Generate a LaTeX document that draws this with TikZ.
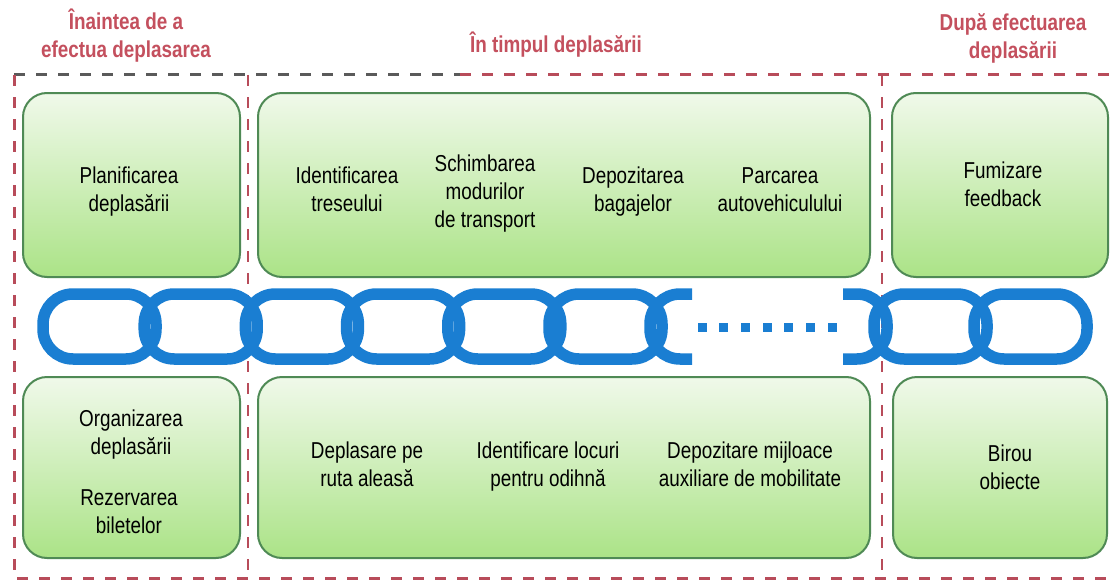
\documentclass[tikz,border=0pt]{standalone}
\usepackage{fontspec}
\setmainfont{Liberation Sans}[FakeStretch=0.82]
\definecolor{boxline}{HTML}{4F8A55}
\definecolor{boxtop}{HTML}{F0F9EA}
\definecolor{boxbot}{HTML}{ABE387}
\definecolor{chainblue}{HTML}{1A7ED2}
\definecolor{phasered}{HTML}{C4505E}
\definecolor{sepred}{HTML}{B84C5A}
\definecolor{sepgrey}{HTML}{5A5A5A}
\begin{document}
\begin{tikzpicture}[x=1pt,y=-1pt,
  box/.style={draw=boxline,line width=2pt,rounded corners=24pt,
    top color=boxtop,bottom color=boxbot},
  txt/.style={align=center,text=black,font=\fontsize{23}{28}\selectfont},
  phase/.style={align=center,text=phasered,font=\fontsize{23}{28}\selectfont\bfseries},
  sep/.style={draw=sepred,line width=3pt,dash pattern=on 11pt off 11pt},
  link/.style={draw=chainblue,line width=11.5pt,rounded corners=30pt}]
\fill[white] (0,0) rectangle (1114,586);
\useasboundingbox (0,0) rectangle (1114,586);
% phases
\node[phase] (before) at (126,36) {Înaintea de a\\efectua deplasarea};
\node[phase] (during) at (556,45) {În timpul deplasării};
\node[phase] (after) at (1013,38) {După efectuarea\\deplasării};
% dashed frame
\draw[sep,draw=sepgrey] (14,75) -- (460,75);
\draw[sep] (460,75) -- (1114,75);
\draw[sep] (14,75) -- (14,578) -- (1114,578);
\draw[sep,line width=2pt] (248,75) -- (248,578);
\draw[sep,line width=2pt] (882,75) -- (882,578);
% boxes
\node[box,minimum width=217pt,minimum height=184pt] (tl) at (131.5,185) {};
\node[box,minimum width=612pt,minimum height=184pt] (tm) at (564,185) {};
\node[box,minimum width=216pt,minimum height=184pt] (tr) at (1000,185) {};
\node[box,minimum width=217pt,minimum height=181pt] (bl) at (131.5,467.5) {};
\node[box,minimum width=612pt,minimum height=181pt] (bm) at (564,467.5) {};
\node[box,minimum width=214pt,minimum height=181pt] (br) at (1000,467.5) {};
% top row
\node[txt] (plan) at (129,192) {Planificarea\\deplasării};
\node[txt] (traseu) at (347,189.5) {Identificarea\\treseului};
\node[txt] (moduri) at (485,194) {Schimbarea\\modurilor\\de transport};
\node[txt] (bagaje) at (633,192) {Depozitarea\\bagajelor};
\node[txt] (parcare) at (780,189.5) {Parcarea\\autovehiculului};
\node[txt] (feedback) at (1003,184) {Fumizare\\feedback};
% bottom row
\node[txt] (organ) at (131,435) {Organizarea\\deplasării};
\node[txt] (bilete) at (129,511.5) {Rezervarea\\biletelor};
\node[txt] (ruta) at (367,464.5) {Deplasare pe\\ruta aleasă};
\node[txt] (odihna) at (548,467) {Identificare locuri\\pentru odihnă};
\node[txt] (mijloace) at (750,464.5) {Depozitare mijloace\\auxiliare de mobilitate};
\node[txt] (birou) at (1010,467) {Birou\\obiecte};
% chain
\foreach \l in {37,138.2,239.4,340.6,441.8,543,868,968}
  \draw[link] (\l+6,294) rectangle (\l+119,359);
\begin{scope}
  \clip (600,280) rectangle (692,372);
  \draw[link] (650,294) rectangle (763,359);
\end{scope}
\begin{scope}
  \clip (843,280) rectangle (900,372);
  \draw[link] (774,294) rectangle (887,359);
\end{scope}
\foreach \i in {0,...,6}
  \fill[chainblue] (697.5+21.7*\i,322.5) rectangle ++(9,9);
\end{tikzpicture}
\end{document}
